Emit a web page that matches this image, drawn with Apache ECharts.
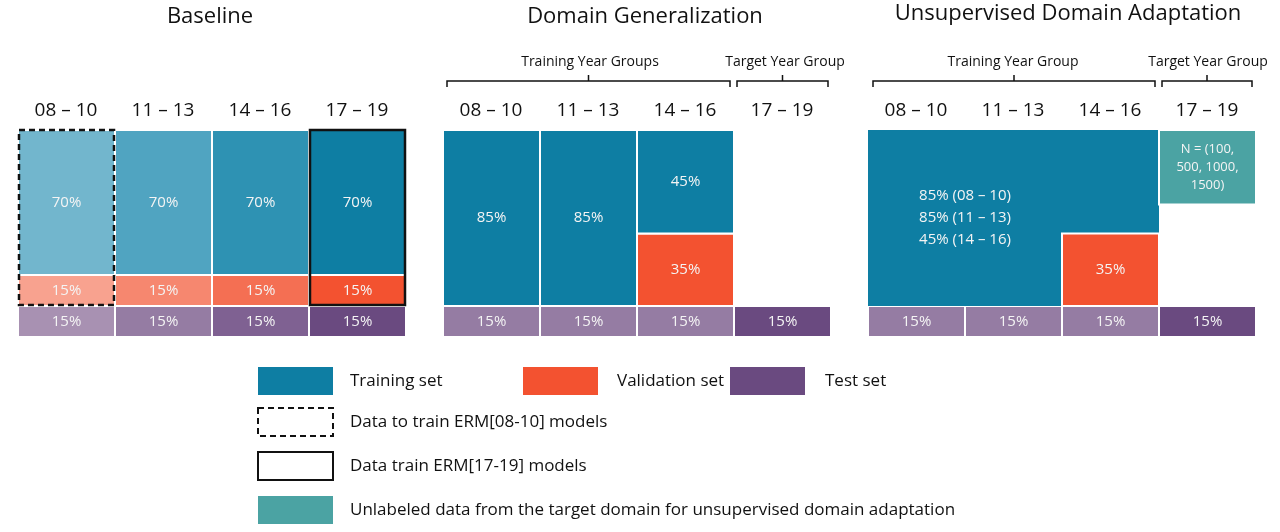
<!DOCTYPE html>
<html><head><meta charset="utf-8">
<script src="https://cdn.jsdelivr.net/npm/echarts@6/dist/echarts.min.js"></script>
<style>html,body{margin:0;background:#fff}#c{width:1280px;height:532px}</style>
</head><body><div id="c"></div>
<script>
// data: percent shares per year group
const yearGroups = ['08 – 10', '11 – 13', '14 – 16', '17 – 19'];
const baseTrain = [70, 70, 70, 70];
const baseVal = [15, 15, 15, 15];
const baseTest = [15, 15, 15, 15];
const dgTrain = [85, 85, 45];
const dgVal = [0, 0, 35];
const dgTest = [15, 15, 15, 15];
const udaTrain = [85, 85, 45];
const udaVal = [0, 0, 35];
const udaTest = [15, 15, 15, 15];
const udaTargetShare = 36;
const udaTargetLabel = 'N = (100,\n500, 1000,\n1500)';

const FONT = '"Open Sans", "Liberation Sans", sans-serif';
const shades = {
  train: ['#72b6cd', '#50a4c1', '#2e92b3', '#0e7ea3'],
  val: ['#f8a28f', '#f6876f', '#f46f53', '#f35230'],
  test: ['#a891b2', '#957ca3', '#7f6192', '#6a4a80'],
  target: ['#4ba3a3']
};

// build rect items per panel
const baseItems = [], dgItems = [], udaItems = [];
yearGroups.forEach((g, i) => {
  baseItems.push({ x0: i, x1: i + 1, y0: 0, y1: baseTest[i], kind: 'test', s: i, label: baseTest[i] + '%' });
  baseItems.push({ x0: i, x1: i + 1, y0: baseTest[i], y1: baseTest[i] + baseVal[i], kind: 'val', s: i, label: baseVal[i] + '%' });
  baseItems.push({ x0: i, x1: i + 1, y0: baseTest[i] + baseVal[i], y1: 100, kind: 'train', s: i, label: baseTrain[i] + '%' });
});
baseItems.push({ x0: 0, x1: 1, y0: baseTest[0], y1: 100, outline: 'dashed' });
baseItems.push({ x0: 3, x1: 4, y0: baseTest[3], y1: 100, outline: 'solid' });

yearGroups.forEach((g, i) => {
  dgItems.push({ x0: i, x1: i + 1, y0: 0, y1: dgTest[i], kind: 'test', s: i === 3 ? 3 : 1, label: dgTest[i] + '%' });
  if (i < 3) {
    if (dgVal[i]) dgItems.push({ x0: i, x1: i + 1, y0: dgTest[i], y1: dgTest[i] + dgVal[i], kind: 'val', s: 3, label: dgVal[i] + '%' });
    dgItems.push({ x0: i, x1: i + 1, y0: dgTest[i] + dgVal[i], y1: 100, kind: 'train', s: 3, label: dgTrain[i] + '%' });
  }
});

yearGroups.forEach((g, i) => {
  udaItems.push({ x0: i, x1: i + 1, y0: 0, y1: udaTest[i], kind: 'test', s: i === 3 ? 3 : 1, label: udaTest[i] + '%' });
});
udaItems.push({ x0: 0, x1: 3, y0: udaTest[0], y1: 100, kind: 'train', s: 3, noStroke: true, label: '' });
udaItems.push({ x0: 0, x1: 2, y0: udaTest[0], y1: 100, kind: 'train', s: 3, noStroke: true,
  label: udaTrain.map((v, i) => v + '% (' + yearGroups[i] + ')').join('\n') });
udaItems.push({ x0: 2, x1: 3, y0: udaTest[2], y1: udaTest[2] + udaVal[2], kind: 'val', s: 3, label: udaVal[2] + '%' });
udaItems.push({ x0: 3, x1: 4, y0: 100 - udaTargetShare, y1: 100, kind: 'target', s: 0, label: udaTargetLabel, small: true });

function makeRender(items) {
  return (params, api) => {
    const it = items[params.dataIndex];
    const p0 = api.coord([it.x0, it.y1]);
    const p1 = api.coord([it.x1, it.y0]);
    const shape = { x: p0[0], y: p0[1], width: p1[0] - p0[0], height: p1[1] - p0[1] };
    if (it.outline) {
      return { type: 'rect', shape: { x: shape.x + 1, y: shape.y, width: shape.width - 2, height: shape.height - 1 },
        style: { fill: 'none', stroke: '#111', lineWidth: 2.5, lineDash: it.outline === 'dashed' ? [6, 4] : null } };
    }
    return {
      type: 'rect', shape,
      style: { fill: shades[it.kind][it.s], stroke: it.noStroke ? null : '#fff', lineWidth: 2 },
      textContent: { style: { text: it.label, fill: '#f4f4f4', fontSize: it.small ? 13 : 15, fontFamily: FONT, align: 'center', lineHeight: it.small ? 18 : 22 } },
      textConfig: { position: 'inside' }
    };
  };
}

const panels = [
  { left: 18, items: baseItems },
  { left: 443, items: dgItems },
  { left: 868, items: udaItems }
];

const chart = echarts.init(document.getElementById('c'));
const txt = (x, y, t, size, align) => ({ type: 'text', x, y, style: { text: t, fontSize: size, fontFamily: FONT, fill: '#111', align: align || 'center', verticalAlign: 'middle' } });
const bracket = (x0, x1, y) => ({ type: 'polyline', shape: { points: [[x0, y + 12], [x0, y + 6], [(x0 + x1) / 2, y + 6], [(x0 + x1) / 2, y], [(x0 + x1) / 2, y + 6], [x1, y + 6], [x1, y + 12]] }, style: { stroke: '#111', lineWidth: 1.5, fill: null } });
const box = (x, y, fill, extra) => ({ type: 'rect', shape: { x, y, width: 75, height: 28 }, style: Object.assign({ fill }, extra || {}) });

const graphics = [
  txt(210, 17, 'Baseline', 22), txt(645, 17, 'Domain Generalization', 22), txt(1068, 14, 'Unsupervised Domain Adaptation', 22),
  txt(590, 62, 'Training Year Groups', 14), txt(785, 62, 'Target Year Group', 14),
  txt(1013, 62, 'Training Year Group', 14), txt(1208, 62, 'Target Year Group', 14),
  bracket(447, 730, 75), bracket(737, 828, 75), bracket(873, 1155, 75), bracket(1162, 1252, 75),
  box(258, 367, shades.train[3]), txt(350, 381, 'Training set', 17, 'left'),
  box(523, 367, shades.val[3]), txt(617, 381, 'Validation set', 17, 'left'),
  box(730, 367, shades.test[3]), txt(825, 381, 'Test set', 17, 'left'),
  box(258, 408, 'none', { stroke: '#111', lineWidth: 2, lineDash: [6, 4] }), txt(350, 422, 'Data to train ERM[08-10] models', 17, 'left'),
  box(258, 452, 'none', { stroke: '#111', lineWidth: 2 }), txt(350, 466, 'Data train ERM[17-19] models', 17, 'left'),
  box(258, 496, shades.target[0]), txt(350, 510, 'Unlabeled data from the target domain for unsupervised domain adaptation', 17, 'left')
];
panels.forEach(p => yearGroups.forEach((g, i) => graphics.push(txt(p.left + 97 * i + 48, 111, g, 19))));

chart.setOption({
  animation: false,
  grid: panels.map(p => ({ left: p.left, width: 388, top: 130, height: 207 })),
  xAxis: panels.map((p, i) => ({ type: 'value', gridIndex: i, min: 0, max: 4, show: false })),
  yAxis: panels.map((p, i) => ({ type: 'value', gridIndex: i, min: 0, max: 100, show: false })),
  series: panels.map((p, i) => ({
    type: 'custom', xAxisIndex: i, yAxisIndex: i,
    data: p.items.map(it => [it.x0, it.y0, it.x1, it.y1]),
    renderItem: makeRender(p.items)
  })),
  graphic: graphics
});
</script></body></html>
